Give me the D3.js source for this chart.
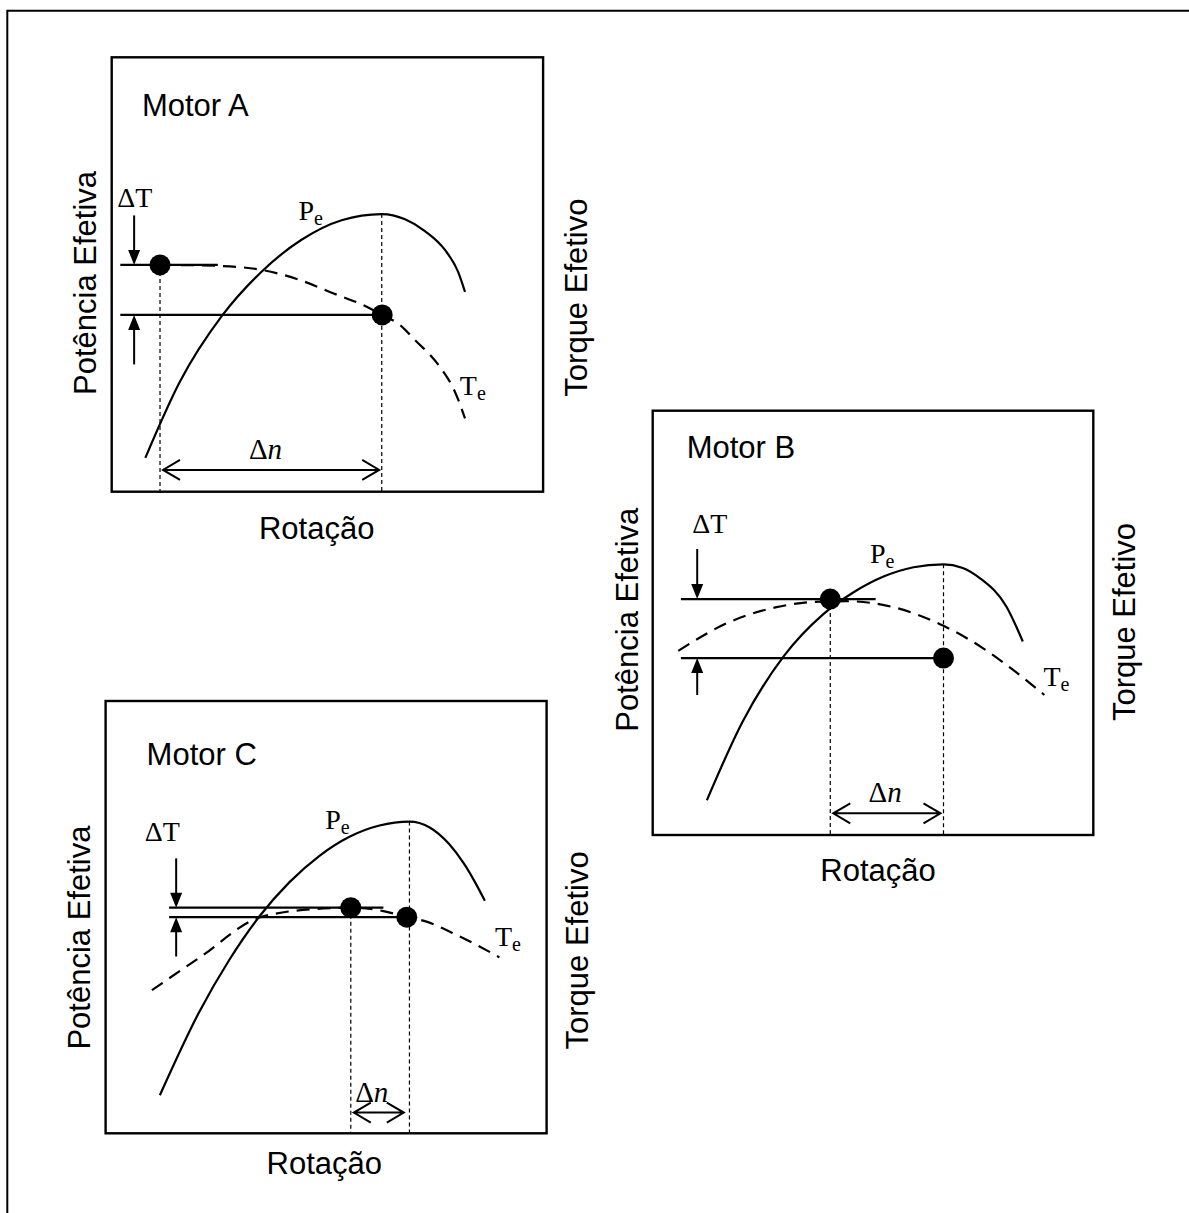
<!DOCTYPE html>
<html>
<head>
<meta charset="utf-8">
<script src="https://cdn.jsdelivr.net/npm/d3@7"></script>
<style>
  body { margin: 0; background: #fff; }
  svg { display: block; }
</style>
</head>
<body>
<svg id="fig" width="1189" height="1213"></svg>
<script>
// Engine curves in relative units: [rotation %, value %] of each plot frame.
const motors = ["Motor A", "Motor B", "Motor C"];

const powerA  = [[7.8,7.8],[15.8,25.3],[25.5,40.4],[34.8,50.7],[44.0,58.0],[53.3,62.5],[62.6,63.9],[68.0,62.7],[72.6,60.0],[77.3,55.6],[80.3,50.6],[81.9,46.0]];
const torqueA = [[11.2,52.2],[20.5,52.1],[29.7,51.7],[35.1,51.0],[43.7,48.7],[51.3,45.7],[59.1,42.6],[62.7,40.7],[66.8,38.4],[70.7,34.5],[73.8,31.5],[76.9,27.6],[79.2,23.8],[81.9,16.9]];

const powerB  = [[12.3,8.2],[20.4,26.7],[29.8,42.2],[38.8,52.1],[45.6,57.2],[52.4,60.9],[59.2,63.1],[66.0,63.8],[70.2,63.0],[74.3,60.5],[80.3,53.8],[84.0,45.6]];
const torqueB = [[5.8,43.4],[16.8,49.9],[28.1,53.7],[38.0,55.0],[44.0,55.1],[54.6,53.7],[66.0,49.3],[75.0,44.0],[81.8,38.9],[88.9,33.0]];

const powerC  = [[12.3,8.8],[21.2,28.0],[28.1,40.2],[34.9,50.2],[41.7,58.1],[48.5,64.2],[55.3,68.6],[62.1,71.2],[68.9,72.1],[73.4,70.8],[77.9,66.9],[81.3,62.3],[83.6,58.4],[86.0,53.8]];
const torqueC = [[10.5,33.1],[21.4,40.7],[35.4,50.1],[49.4,52.0],[55.6,52.2],[63.0,51.4],[68.3,50.0],[72.0,49.2],[79.6,45.9],[89.3,40.7]];

// Marked operating points: maximum torque and maximum power [rotation, torque]
const marksA = [[11.2,52.2],[62.7,40.7]];
const marksB = [[40.3,55.6],[66.0,41.7]];
const marksC = [[55.6,52.2],[68.3,50.0]];

// Maximum power [rotation, power]
const peakA = [62.6, 63.9];
const peakB = [66.0, 63.8];
const peakC = [68.9, 72.1];

const axisX = "Rotação";
const axisLeft = "Potência Efetiva";
const axisRight = "Torque Efetivo";

// Layout of the three frames (pixels) and annotation placement (relative units)
const layout = [
  { box: {x:111.7, y:57.3, w:431.4, h:434.4},
    lineStart: 2.0, upperEnd: 24.6, arrowX: 5.2, downFrom: 63.6, upFrom: 29.3, spanY: 5.0,
    title: [7.0,86.4], dT: [1.3,65.5], pe: [43.3,62.5], te: [80.7,22.3], dn: [31.8,7.6],
    rot: [316.7,539], left: [96,283], right: [587,297.6] },
  { box: {x:652.7, y:410.7, w:440.6, h:424.3},
    lineStart: 6.4, upperEnd: 50.6, arrowX: 10.1, downFrom: 67.4, upFrom: 33.0, spanY: 5.1,
    title: [7.7,88.8], dT: [9.0,71.2], pe: [49.3,64.0], te: [88.7,35.1], dn: [49.0,7.8],
    rot: [878,880.5], left: [637.6,619.7], right: [1135,622] },
  { box: {x:105.6, y:701, w:441, h:432.3},
    lineStart: 14.4, upperEnd: 63.0, arrowX: 16.0, downFrom: 63.6, upFrom: 40.9, spanY: 4.8,
    title: [9.3,85.2], dT: [8.9,67.5], pe: [49.8,70.3], te: [88.3,43.3], dn: [56.6,7.3],
    rot: [324.3,1173.5], left: [90,937.6], right: [587.8,950.4] }
];

const powers = [powerA, powerB, powerC];
const torques = [torqueA, torqueB, torqueC];
const marks = [marksA, marksB, marksC];
const peaks = [peakA, peakB, peakC];

const SANS = "'Liberation Sans', Arial, Helvetica, sans-serif";
const SERIF = "'Liberation Serif', 'Times New Roman', serif";

const svg = d3.select("#fig");

// outer frame (only top and left edges fall inside the page)
svg.append("path")
  .attr("d", "M7.3,1240V10.7H1220")
  .attr("fill", "none").attr("stroke", "#000").attr("stroke-width", 2);

function drawPanel(i) {
  const L = layout[i], b = L.box;
  const g = svg.append("g");
  const x = d3.scaleLinear().domain([0, 100]).range([b.x, b.x + b.w]);
  const y = d3.scaleLinear().domain([0, 100]).range([b.y + b.h, b.y]);
  const line = d3.line().x(d => x(d[0])).y(d => y(d[1])).curve(d3.curveMonotoneX);

  g.append("rect").attr("x", b.x).attr("y", b.y).attr("width", b.w).attr("height", b.h)
    .attr("fill", "none").attr("stroke", "#000").attr("stroke-width", 2.4);

  const [m1, m2] = marks[i];
  const pk = peaks[i];

  // vertical guides down to the rotation axis
  g.append("line").attr("x1", x(m1[0])).attr("x2", x(m1[0]))
    .attr("y1", y(m1[1])).attr("y2", y(0))
    .attr("stroke", "#000").attr("stroke-width", 1.2).attr("stroke-dasharray", "4,3");
  g.append("line").attr("x1", x(pk[0])).attr("x2", x(pk[0]))
    .attr("y1", y(pk[1])).attr("y2", y(0))
    .attr("stroke", "#000").attr("stroke-width", 1.2).attr("stroke-dasharray", "4,3");

  // power (solid) and torque (dashed) curves
  g.append("path").attr("d", line(powers[i]))
    .attr("fill", "none").attr("stroke", "#000").attr("stroke-width", 2.2);
  g.append("path").attr("d", line(torques[i]))
    .attr("fill", "none").attr("stroke", "#000").attr("stroke-width", 2.2)
    .attr("stroke-dasharray", "13,8");

  // torque levels
  g.append("line").attr("x1", x(L.lineStart)).attr("x2", x(L.upperEnd))
    .attr("y1", y(m1[1])).attr("y2", y(m1[1]))
    .attr("stroke", "#000").attr("stroke-width", 2.2);
  g.append("line").attr("x1", x(L.lineStart)).attr("x2", x(m2[0]))
    .attr("y1", y(m2[1])).attr("y2", y(m2[1]))
    .attr("stroke", "#000").attr("stroke-width", 2.2);

  // ΔT arrows with filled heads
  const ax = x(L.arrowX);
  const head = (tipY, dir) => `M${ax},${tipY}L${ax - 6},${tipY - dir * 15}L${ax + 6},${tipY - dir * 15}Z`;
  g.append("line").attr("x1", ax).attr("x2", ax).attr("y1", y(L.downFrom)).attr("y2", y(m1[1]) - 10)
    .attr("stroke", "#000").attr("stroke-width", 2);
  g.append("path").attr("d", head(y(m1[1]), 1)).attr("fill", "#000");
  g.append("line").attr("x1", ax).attr("x2", ax).attr("y1", y(L.upFrom)).attr("y2", y(m2[1]) + 10)
    .attr("stroke", "#000").attr("stroke-width", 2);
  g.append("path").attr("d", head(y(m2[1]), -1)).attr("fill", "#000");

  // Δn double arrow with open heads
  const sy = y(L.spanY), x1 = x(m1[0]) + 3, x2 = x(m2[0]) - 3;
  g.append("path")
    .attr("d", `M${x1},${sy}H${x2}M${x1 + 17},${sy - 10}L${x1},${sy}L${x1 + 17},${sy + 10}M${x2 - 17},${sy - 10}L${x2},${sy}L${x2 - 17},${sy + 10}`)
    .attr("fill", "none").attr("stroke", "#000").attr("stroke-width", 2);

  // operating points
  g.selectAll("circle.pt").data(marks[i]).join("circle").attr("class", "pt")
    .attr("cx", d => x(d[0])).attr("cy", d => y(d[1])).attr("r", 10.5).attr("fill", "#000");

  // texts
  g.append("text").attr("x", x(L.title[0])).attr("y", y(L.title[1]))
    .attr("font-family", SANS).attr("font-size", 31).text(motors[i]);
  g.append("text").attr("x", x(L.dT[0])).attr("y", y(L.dT[1]))
    .attr("font-family", SERIF).attr("font-size", 28).text("ΔT");

  const sub = (pos, main) => {
    const t = g.append("text").attr("x", x(pos[0])).attr("y", y(pos[1]))
      .attr("font-family", SERIF).attr("font-size", 28);
    t.append("tspan").text(main);
    t.append("tspan").attr("font-size", 20).attr("dy", 5).text("e");
  };
  sub(L.pe, "P");
  sub(L.te, "T");

  const dn = g.append("text").attr("x", x(L.dn[0])).attr("y", y(L.dn[1]))
    .attr("font-family", SERIF).attr("font-size", 29);
  dn.append("tspan").text("Δ");
  dn.append("tspan").attr("font-style", "italic").text("n");

  g.append("text").attr("x", L.rot[0]).attr("y", L.rot[1]).attr("text-anchor", "middle")
    .attr("font-family", SANS).attr("font-size", 31).text(axisX);
  g.append("text").attr("transform", `translate(${L.left[0]},${L.left[1]}) rotate(-90)`)
    .attr("text-anchor", "middle").attr("font-family", SANS).attr("font-size", 31).text(axisLeft);
  g.append("text").attr("transform", `translate(${L.right[0]},${L.right[1]}) rotate(-90)`)
    .attr("text-anchor", "middle").attr("font-family", SANS).attr("font-size", 31).text(axisRight);
}

motors.forEach((_, i) => drawPanel(i));
</script>
</body>
</html>
